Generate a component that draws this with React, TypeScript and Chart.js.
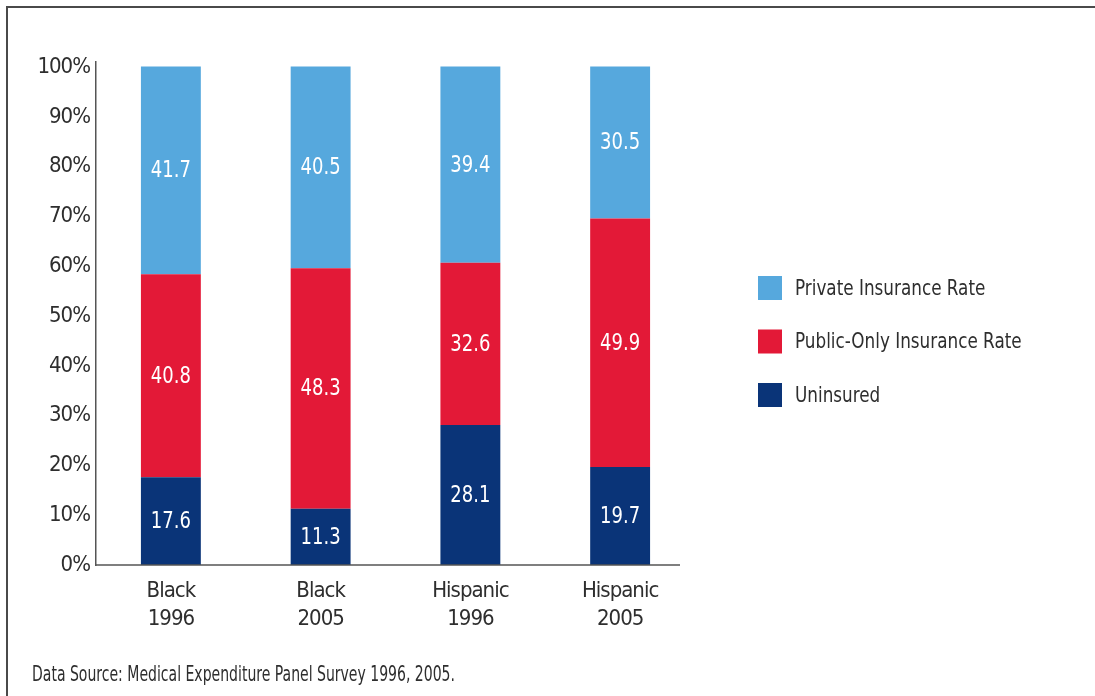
import React, { useEffect, useRef } from "react";
import { Chart, registerables } from "chart.js";

Chart.register(...registerables);

// ---- Data ----
const categories: string[][] = [
  ["Black", "1996"],
  ["Black", "2005"],
  ["Hispanic", "1996"],
  ["Hispanic", "2005"],
];
const uninsured = [17.6, 11.3, 28.1, 19.7];
const publicOnly = [40.8, 48.3, 32.6, 49.9];
const privateIns = [41.7, 40.5, 39.4, 30.5];
const seriesNames = ["Uninsured", "Public-Only Insurance Rate", "Private Insurance Rate"];
const seriesColors = ["#0A3478", "#E31937", "#56A8DD"];
const yTickValues = [0, 10, 20, 30, 40, 50, 60, 70, 80, 90, 100];
const sourceNote = "Data Source: Medical Expenditure Panel Survey 1996, 2005.";

const FONT = "'DejaVu Sans Condensed', 'Liberation Sans Narrow', Roboto, sans-serif";
const TEXT = "#2e2e2e";
const AXIS = "#555555";

// draws text horizontally condensed by factor sx
function narrowText(ctx: any, text: string, x: number, y: number, sx: number, align: string) {
  ctx.save();
  ctx.translate(x, y);
  ctx.scale(sx, 1);
  ctx.textAlign = align;
  ctx.fillText(text, 0, 0);
  ctx.restore();
}

const decorPlugin = {
  id: "decor",
  beforeDraw(chart: any) {
    const { ctx, width, height } = chart;
    ctx.save();
    ctx.fillStyle = "#ffffff";
    ctx.fillRect(0, 0, width, height);
    ctx.strokeStyle = "#4a4a4a";
    ctx.lineWidth = 2;
    ctx.beginPath();
    ctx.moveTo(width, 7);
    ctx.lineTo(7, 7);
    ctx.lineTo(7, height);
    ctx.stroke();
    ctx.restore();
    // slightly tighter tick label text
    try {
      ctx.letterSpacing = "-1px";
    } catch (e) {}
  },
  afterDatasetsDraw(chart: any) {
    const { ctx } = chart;
    ctx.save();
    try {
      ctx.letterSpacing = "0px";
    } catch (e) {}
    ctx.font = `23px ${FONT}`;
    ctx.fillStyle = "#ffffff";
    ctx.textBaseline = "middle";
    chart.data.datasets.forEach((ds: any, di: number) => {
      const meta = chart.getDatasetMeta(di);
      meta.data.forEach((el: any, i: number) => {
        const v = ds.data[i];
        const y = (el.y + el.base) / 2;
        narrowText(ctx, v.toFixed(1), el.x, y + 1, 0.87, "center");
      });
    });
    ctx.restore();
  },
  afterDraw(chart: any) {
    const { ctx, chartArea } = chart;
    ctx.save();
    try {
      ctx.letterSpacing = "0px";
    } catch (e) {}
    // x axis baseline
    ctx.strokeStyle = AXIS;
    ctx.lineWidth = 1.5;
    ctx.beginPath();
    ctx.moveTo(chartArea.left, chartArea.bottom);
    ctx.lineTo(chartArea.right - 15, chartArea.bottom);
    ctx.stroke();

    // legend (top-to-bottom: reverse stack order)
    const n = chart.data.datasets.length;
    const lx = chartArea.right + 63;
    const rowY = [288, 341.5, 395];
    ctx.font = `22px ${FONT}`;
    ctx.textBaseline = "middle";
    for (let i = 0; i < n; i++) {
      const ds = chart.data.datasets[n - 1 - i];
      const cy = rowY[i];
      ctx.fillStyle = ds.backgroundColor;
      ctx.fillRect(lx, cy - 12, 24, 24);
      ctx.fillStyle = TEXT;
      narrowText(ctx, ds.label, lx + 37, cy + 1, 0.85, "left");
    }

    // source note
    ctx.font = `22px ${FONT}`;
    ctx.textBaseline = "alphabetic";
    const w = ctx.measureText(sourceNote).width;
    ctx.fillStyle = TEXT;
    narrowText(ctx, sourceNote, 32, 681, 423 / w, "left");
    ctx.restore();
    try {
      ctx.letterSpacing = "0px";
    } catch (e) {}
  },
};

export default function App() {
  const ref = useRef<HTMLCanvasElement | null>(null);

  useEffect(() => {
    if (!ref.current) return;
    const series = [uninsured, publicOnly, privateIns];
    const chart = new Chart(ref.current, {
      type: "bar",
      data: {
        labels: categories,
        datasets: series.map((d, i) => ({
          label: seriesNames[i],
          data: d,
          backgroundColor: seriesColors[i],
          borderWidth: 0,
          barPercentage: 0.4,
          categoryPercentage: 1,
        })),
      },
      options: {
        responsive: false,
        animation: false,
        devicePixelRatio: 1,
        layout: { padding: { left: 0, right: 400, top: 62, bottom: 0 } },
        plugins: {
          legend: { display: false },
          tooltip: { enabled: false },
          title: { display: false },
        },
        scales: {
          x: {
            stacked: true,
            grid: { display: false, drawTicks: false },
            border: { display: false },
            ticks: {
              color: TEXT,
              font: { family: FONT, size: 22, lineHeight: 1.25 },
              padding: 13,
              maxRotation: 0,
              autoSkip: false,
            },
            afterFit(scale: any) {
              scale.height = 131;
            },
          },
          y: {
            stacked: true,
            min: 0,
            max: 101,
            grid: { display: false, drawTicks: false },
            border: { display: true, color: AXIS, width: 1.5 },
            ticks: {
              color: TEXT,
              font: { family: FONT, size: 22 },
              padding: 6,
              callback: (v: any) => `${v}%`,
            },
            afterBuildTicks(scale: any) {
              scale.ticks = yTickValues.map((v) => ({ value: v }));
            },
            afterFit(scale: any) {
              scale.width = 96;
            },
          },
        },
      },
      plugins: [decorPlugin],
    });
    return () => chart.destroy();
  }, []);

  return (
    <div style={{ position: "fixed", left: 0, top: 0, width: 1095, height: 696, background: "#fff" }}>
      <canvas ref={ref} width={1095} height={696} style={{ display: "block" }} />
    </div>
  );
}
